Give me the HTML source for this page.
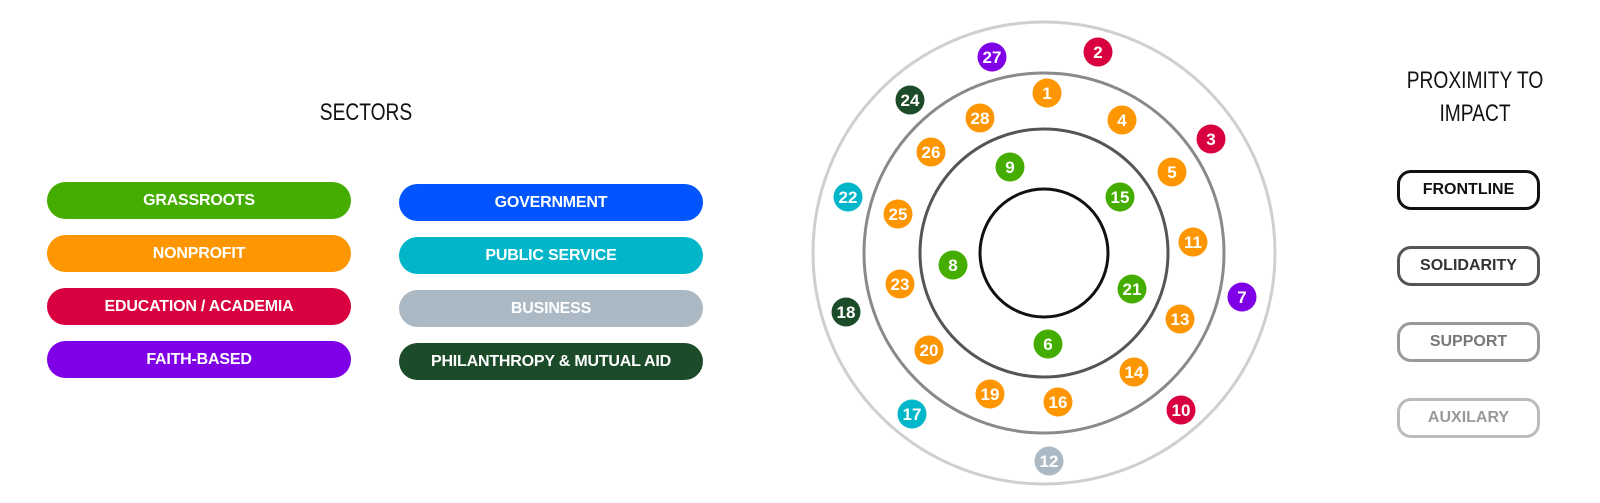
<!DOCTYPE html>
<html><head><meta charset="utf-8"><style>
body{margin:0;width:1600px;height:503px;background:#fff;overflow:hidden;position:relative;font-family:"Liberation Sans",sans-serif}
.p{position:absolute;height:37px;border-radius:19px;color:#fff;font-weight:bold;font-size:16px;display:flex;align-items:center;justify-content:center;letter-spacing:-0.2px}
.l{position:absolute;width:137px;height:34px;border-radius:14px;font-weight:bold;font-size:16px;display:flex;align-items:center;justify-content:center;left:1397px;background:#fff}
.t{position:absolute;font-size:24px;color:#111;font-weight:normal;transform:scaleX(0.8);letter-spacing:0px;text-align:center;line-height:33px}
</style></head><body>
<div class="t" style="left:286px;top:96px;width:160px">SECTORS</div>
<div class="t" style="left:1375px;top:64px;width:200px">PROXIMITY TO<br>IMPACT</div>

<div class="p" style="left:47px;top:182px;width:304px;background:#45ad00">GRASSROOTS</div>
<div class="p" style="left:47px;top:235px;width:304px;background:#fd9600">NONPROFIT</div>
<div class="p" style="left:47px;top:288px;width:304px;background:#d8003e">EDUCATION / ACADEMIA</div>
<div class="p" style="left:47px;top:341px;width:304px;background:#7f00e6">FAITH-BASED</div>
<div class="p" style="left:399px;top:184px;width:304px;background:#0055ff">GOVERNMENT</div>
<div class="p" style="left:399px;top:237px;width:304px;background:#00b6c8">PUBLIC SERVICE</div>
<div class="p" style="left:399px;top:290px;width:304px;background:#abb9c5">BUSINESS</div>
<div class="p" style="left:399px;top:343px;width:304px;background:#1c4b2a">PHILANTHROPY &amp; MUTUAL AID</div>

<div class="l" style="top:170px;border:3px solid #111;color:#111">FRONTLINE</div>
<div class="l" style="top:246px;border:3px solid #555;color:#333">SOLIDARITY</div>
<div class="l" style="top:322px;border:3px solid #999;color:#777">SUPPORT</div>
<div class="l" style="top:398px;border:3px solid #bbb;color:#999">AUXILARY</div>

<svg width="1600" height="503" style="position:absolute;left:0;top:0">
<g fill="none" stroke-width="3">
<circle cx="1044" cy="253" r="231" stroke="#cfcfcf"/>
<circle cx="1044" cy="253" r="180" stroke="#8a8a8a"/>
<circle cx="1044" cy="253" r="124" stroke="#555"/>
<circle cx="1044" cy="253" r="64" stroke="#111"/>
</g>
<g font-family="Liberation Sans, sans-serif" font-weight="bold" font-size="17" fill="#fff" text-anchor="middle">
<g id="b"></g>
</g>
</svg>
<script>
const O="#fd9600",G="#45ad00",R="#d8003e",P="#7f00e6",C="#00b6c8",D="#1c4b2a",Y="#abb9c5";
const d=[[27,992,57,P],[2,1098,52,R],[24,910,100,D],[1,1047,93,O],[28,980,118,O],[4,1122,120,O],[3,1211,139,R],[26,931,152,O],[9,1010,167,G],[5,1172,172,O],[22,848,197,C],[15,1120,197,G],[25,898,214,O],[11,1193,242,O],[8,953,265,G],[21,1132,289,G],[7,1242,297,P],[23,900,284,O],[18,846,312,D],[13,1180,319,O],[6,1048,344,G],[20,929,350,O],[14,1134,372,O],[19,990,394,O],[16,1058,402,O],[10,1181,410,R],[17,912,414,C],[12,1049,461,Y]];
let s="";for(const[n,x,y,c]of d){s+=`<circle cx="${x}" cy="${y}" r="14.5" fill="${c}"/><text x="${x}" y="${y+6}">${n}</text>`;}
document.getElementById("b").innerHTML=s;
</script>
</body></html>
